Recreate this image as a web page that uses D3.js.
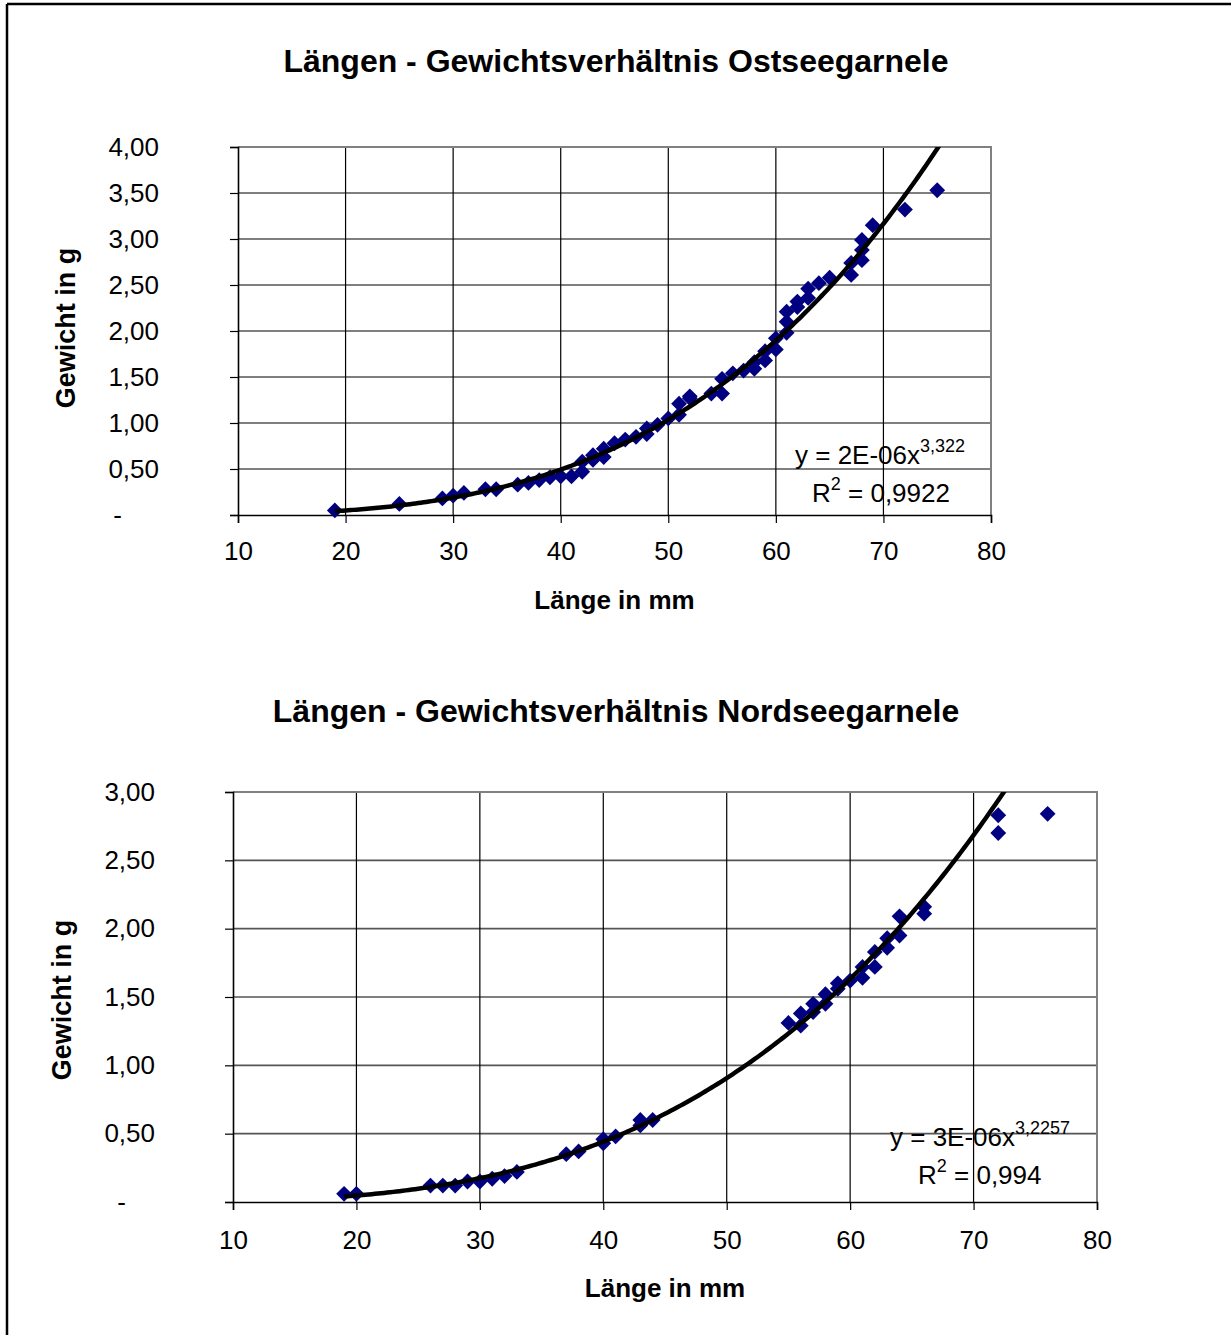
<!DOCTYPE html>
<html>
<head>
<meta charset="utf-8">
<script src="https://cdn.jsdelivr.net/npm/d3@7"></script>
<style>
  body { margin: 0; background: #fff; }
  svg { display: block; font-family: "Liberation Sans", Arial, sans-serif; }
</style>
</head>
<body>
<div id="page"></div>
<script>
// Ostsee (Baltic) shrimp: length in mm, weight in g
var ostseeLength = [19, 25, 29, 30, 31, 33, 34, 36, 37, 38, 39, 40, 41, 42, 42, 43, 43, 44, 44, 45,
	46, 47, 48, 48, 49, 50, 51, 51, 52, 52, 54, 55, 55, 56, 57, 58, 58, 59, 59, 60,
	60, 61, 61, 61, 62, 62, 63, 63, 64, 65, 67, 67, 68, 68, 68, 69, 72, 75];
var ostseeWeight = [0.05, 0.12, 0.18, 0.21, 0.24, 0.28, 0.28, 0.33, 0.35, 0.38, 0.41, 0.42, 0.42, 0.47, 0.58, 0.60, 0.65, 0.63, 0.72, 0.78,
	0.82, 0.85, 0.88, 0.94, 0.98, 1.05, 1.09, 1.21, 1.27, 1.29, 1.32, 1.32, 1.48, 1.54, 1.57, 1.59, 1.66, 1.68, 1.78, 1.80,
	1.92, 1.98, 2.10, 2.21, 2.26, 2.32, 2.36, 2.46, 2.52, 2.58, 2.61, 2.74, 2.77, 2.88, 2.99, 3.15, 3.32, 3.53];

// Nordsee (North Sea) shrimp
var nordseeLength = [19, 20, 26, 27, 28, 29, 30, 31, 32, 33, 37, 38, 40, 40, 41, 43, 43, 44,
	55, 56, 56, 57, 57, 58, 58, 59, 59, 60, 61, 61, 62, 62, 63, 63, 64, 64, 66, 66, 72, 72, 76];
var nordseeWeight = [0.06, 0.06, 0.12, 0.12, 0.12, 0.15, 0.15, 0.17, 0.19, 0.22, 0.35, 0.37, 0.43, 0.46, 0.48, 0.56, 0.60, 0.60,
	1.31, 1.29, 1.38, 1.39, 1.45, 1.45, 1.52, 1.56, 1.60, 1.62, 1.64, 1.72, 1.72, 1.83, 1.86, 1.93, 1.95, 2.09, 2.11, 2.16, 2.70, 2.83, 2.84];

// power trendlines y = a * x^b
var ostseeTrend = [2.35e-6, 3.322];
var nordseeTrend = [3.0e-6, 3.2257];

var xTicks = [10, 20, 30, 40, 50, 60, 70, 80];
var ostseeYTicks = [0, 0.5, 1, 1.5, 2, 2.5, 3, 3.5, 4];
var nordseeYTicks = [0, 0.5, 1, 1.5, 2, 2.5, 3];

var titles = ["Längen - Gewichtsverhältnis Ostseegarnele", "Längen - Gewichtsverhältnis Nordseegarnele"];
var xTitle = "Länge in mm";
var yTitle = "Gewicht in g";
var ostseeEquation = ["y = 2E-06x", "3,322", "R", "2", " = 0,9922"];
var nordseeEquation = ["y = 3E-06x", "3,2257", "R", "2", " = 0,994"];

var W = 1231, H = 1335;
var de = d3.formatLocale({decimal: ",", thousands: ".", grouping: [3], currency: ["", " €"]});
var fmt2 = de.format(".2f");

var svg = d3.select("#page").append("svg")
	.attr("width", W)
	.attr("height", H);

svg.append("rect").attr("width", W).attr("height", H).attr("fill", "#fff");

// page frame of the document
svg.append("line").attr("x1", 7).attr("x2", W).attr("y1", 4).attr("y2", 4)
	.attr("stroke", "#000").attr("stroke-width", 2.5);
svg.append("line").attr("x1", 7).attr("x2", 7).attr("y1", 4).attr("y2", H)
	.attr("stroke", "#000").attr("stroke-width", 2.5);

var drawChart = function(opt){
	var x = d3.scaleLinear().domain([10, 80]).range([opt.left, opt.right]);
	var y = d3.scaleLinear().domain([0, opt.yMax]).range([opt.bottom, opt.top]);
	var g = svg.append("g");

	// title
	g.append("text")
		.attr("x", opt.titleX).attr("y", opt.titleY)
		.attr("text-anchor", "middle")
		.attr("font-size", 32).attr("font-weight", "bold")
		.text(opt.title);

	// gridlines
	g.selectAll(".hgrid")
		.data(opt.yTicks.filter(function(d){ return d > 0 && d < opt.yMax; }))
		.enter().append("line")
		.attr("x1", opt.left).attr("x2", opt.right)
		.attr("y1", function(d){ return y(d); })
		.attr("y2", function(d){ return y(d); })
		.attr("stroke", "#555").attr("stroke-width", 1.6);
	g.selectAll(".vgrid")
		.data(xTicks.filter(function(d){ return d > 10 && d < 80; }))
		.enter().append("line")
		.attr("x1", function(d){ return x(d); })
		.attr("x2", function(d){ return x(d); })
		.attr("y1", opt.top).attr("y2", opt.bottom)
		.attr("stroke", "#000").attr("stroke-width", 1.2);

	// plot border (top / right)
	g.append("path")
		.attr("d", "M" + opt.left + "," + opt.top + "H" + opt.right + "V" + opt.bottom)
		.attr("fill", "none").attr("stroke", "#808080").attr("stroke-width", 2);

	// axes
	var yAxis = d3.axisLeft(y)
		.tickValues(opt.yTicks)
		.tickSize(8)
		.tickPadding(opt.yPad)
		.tickFormat(function(d){ return d === 0 ? "-" : fmt2(d); });
	var ya = g.append("g").attr("transform", "translate(" + opt.left + ",0)").call(yAxis);
	ya.selectAll("text").attr("font-size", 26).attr("font-family", null)
		.attr("dx", function(d){ return d === 0 ? opt.dashShift : 0; });

	var xAxis = d3.axisBottom(x)
		.tickValues(xTicks)
		.tickSize(8)
		.tickPadding(opt.xPad)
		.tickFormat(d3.format("d"));
	var xa = g.append("g").attr("transform", "translate(0," + opt.bottom + ")").call(xAxis);
	xa.selectAll("text").attr("font-size", 26).attr("font-family", null);

	[ya, xa].forEach(function(a){
		a.select(".domain").attr("stroke", "#000").attr("stroke-width", 1.6);
		a.selectAll(".tick line").attr("stroke", "#000").attr("stroke-width", 1.2);
		a.selectAll("text").attr("fill", "#000");
	});

	// axis titles
	g.append("text")
		.attr("x", (opt.left + opt.right) / 2).attr("y", opt.xTitleY)
		.attr("text-anchor", "middle")
		.attr("font-size", 26).attr("font-weight", "bold")
		.text(xTitle);
	g.append("text")
		.attr("transform", "translate(" + opt.yTitleX + "," + opt.yTitleY + ") rotate(-90)")
		.attr("text-anchor", "middle")
		.attr("font-size", 27).attr("font-weight", "bold")
		.text(yTitle);

	// trendline, clipped to the plot area
	var clipId = "clip" + opt.id;
	g.append("clipPath").attr("id", clipId)
		.append("rect")
		.attr("x", opt.left).attr("y", opt.top)
		.attr("width", opt.right - opt.left).attr("height", opt.bottom - opt.top);

	var xs = d3.range(d3.min(opt.xs), 80.01, 0.25);
	var line = d3.line()
		.x(function(d){ return x(d); })
		.y(function(d){ return y(opt.trend[0] * Math.pow(d, opt.trend[1])); });

	// markers
	var pts = opt.xs.map(function(v, i){ return {len: v, wt: opt.ys[i]}; });
	g.selectAll(".pt")
		.data(pts)
		.enter().append("path")
		.attr("class", "pt")
		.attr("d", d3.symbol(d3.symbolSquare, 125))
		.attr("transform", function(d){ return "translate(" + x(d.len) + "," + y(d.wt) + ") rotate(45)"; })
		.attr("fill", "#000080");

	g.append("path")
		.datum(xs)
		.attr("clip-path", "url(#" + clipId + ")")
		.attr("d", line)
		.attr("fill", "none")
		.attr("stroke", "#000")
		.attr("stroke-width", 4.5);

	// equation
	var eq = opt.equation;
	var t1 = g.append("text").attr("x", opt.eqX).attr("y", opt.eqY).attr("font-size", 26);
	t1.append("tspan").text(eq[0]);
	t1.append("tspan").attr("dy", -12).attr("font-size", 18).text(eq[1]);
	var t2 = g.append("text").attr("x", opt.r2X).attr("y", opt.eqY + 38).attr("font-size", 26);
	t2.append("tspan").text(eq[2]);
	t2.append("tspan").attr("dy", -12).attr("font-size", 18).text(eq[3]);
	t2.append("tspan").attr("dy", 12).text(eq[4]);
};

drawChart({
	id: 1, title: titles[0], titleX: 616, titleY: 72,
	left: 238, right: 991, top: 147, bottom: 515, yMax: 4,
	yTicks: ostseeYTicks, xs: ostseeLength, ys: ostseeWeight, trend: ostseeTrend,
	yPad: 71, xPad: 19, dashShift: -37,
	xTitleY: 609, yTitleX: 75, yTitleY: 328,
	equation: ostseeEquation, eqX: 795, eqY: 464, r2X: 812
});

drawChart({
	id: 2, title: titles[1], titleX: 616, titleY: 722,
	left: 233, right: 1097, top: 792, bottom: 1202, yMax: 3,
	yTicks: nordseeYTicks, xs: nordseeLength, ys: nordseeWeight, trend: nordseeTrend,
	yPad: 70, xPad: 21, dashShift: -29,
	xTitleY: 1297, yTitleX: 71, yTitleY: 1000,
	equation: nordseeEquation, eqX: 890, eqY: 1146, r2X: 918
});
</script>
</body>
</html>
